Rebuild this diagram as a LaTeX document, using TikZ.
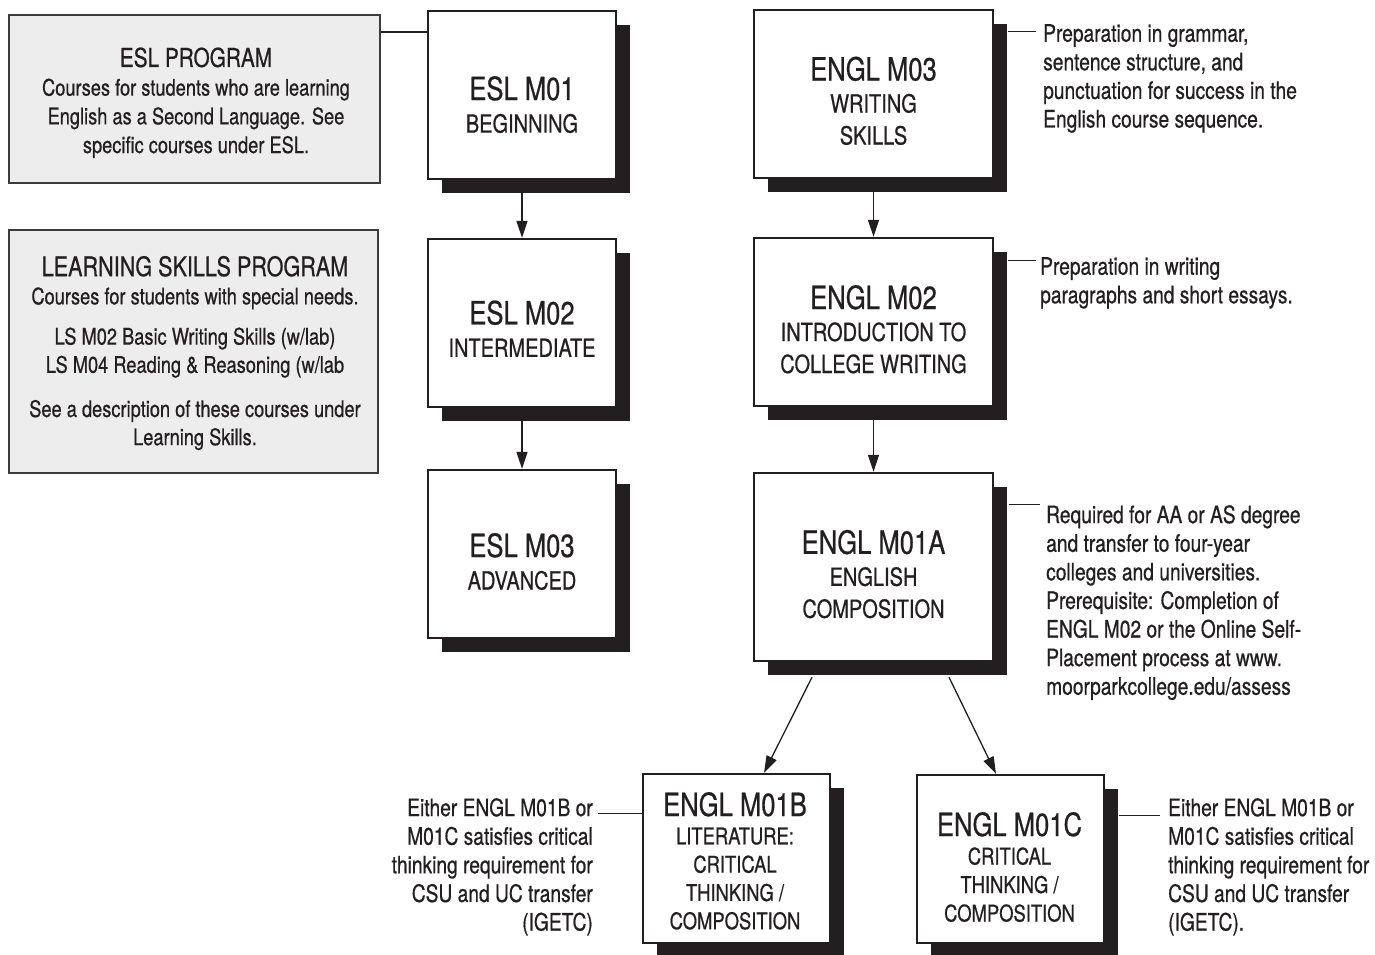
\documentclass[tikz,border=0pt]{standalone}
\usepackage{fontspec}
\setmainfont{TeX Gyre Heros}[FakeStretch=0.8,FakeBold=0.6]
\usetikzlibrary{arrows.meta,shadows,calc}
\definecolor{ink}{HTML}{231F20}
\definecolor{panel}{HTML}{EDEDED}
\definecolor{panelline}{HTML}{3C3C3C}
\newcommand\fsz[2]{\fontsize{#1}{#2}\selectfont}
\begin{document}
\begin{tikzpicture}[x=1pt,y=-1pt,
  cbox/.style={draw=ink, line width=2.4pt, fill=white, inner sep=0pt,
    minimum width=188pt, minimum height=168pt,
    drop shadow={shadow xshift=14pt,shadow yshift=-14pt,opacity=1,fill=ink}},
  gbox/.style={draw=panelline, line width=1.8pt, fill=panel, inner sep=0pt},
  ctext/.style={anchor=north, align=center, inner sep=0pt, text=ink},
  note/.style={inner sep=0pt, text=ink, font=\fsz{24}{28.6}},
  arr/.style={draw=ink, line width=1.3pt, -{Triangle[width=11pt,length=17pt]}},
  ann/.style={draw=ink, line width=1.2pt}]
\fill[white] (0,0) rectangle (1375,955);
\useasboundingbox (0,0) rectangle (1375,955);

% grey program boxes
\node[gbox, minimum width=371pt, minimum height=168pt] (esl) at (194.5,99) {};
\node[gbox, minimum width=369pt, minimum height=243pt] (ls) at (193.5,351.5) {};

% course boxes
\node[cbox] (m1) at (522,95) {};
\node[cbox] (m2) at (522,323) {};
\node[cbox] (m3) at (522,554) {};
\node[cbox, minimum width=239pt] (e3) at (873.5,94) {};
\node[cbox, minimum width=239pt] (e2) at (873.5,322) {};
\node[cbox, minimum width=239pt, minimum height=188pt] (a1) at (873.5,567) {};
\node[cbox, minimum width=187pt, minimum height=169pt] (b1) at (736.5,858.5) {};
\node[cbox, minimum width=187pt] (c1) at (1010.5,859) {};

% texts of the grey boxes
\node[ctext, font=\fsz{22.8}{28.7}] (eslt) at (196,47.3)
  {{\fsz{26}{28.7}ESL PROGRAM}\\Courses for students who are learning\\English as a Second Language. See\\specific courses under ESL.};
\node[ctext, font=\fsz{22.8}{28.2}] (lst) at (195,255.8)
  {{\fsz{27}{28.2}LEARNING SKILLS PROGRAM}\\Courses for students with special needs.\\[12pt]LS M02 Basic Writing Skills (w/lab)\\LS M04 Reading \& Reasoning (w/lab\\[16pt]See a description of these courses under\\Learning Skills.};

% texts of the course boxes
\node[ctext, font=\fsz{25}{32.5}] (m1t) at (522,76) {{\fsz{32}{32.5}ESL M01}\\BEGINNING};
\node[ctext, font=\fsz{25}{32.5}] (m2t) at (522,300.3) {{\fsz{32}{32.5}ESL M02}\\INTERMEDIATE};
\node[ctext, font=\fsz{25}{32.5}] (m3t) at (522,532.9) {{\fsz{32}{32.5}ESL M03}\\ADVANCED};
\node[ctext, font=\fsz{25}{32}] (e3t) at (873.5,56.4) {{\fsz{32}{31.5}ENGL M03}\\WRITING\\SKILLS};
\node[ctext, font=\fsz{25}{32}] (e2t) at (873.5,284.9) {{\fsz{32}{32}ENGL M02}\\INTRODUCTION TO\\COLLEGE WRITING};
\node[ctext, font=\fsz{25}{32}] (a1t) at (873.5,529.7) {{\fsz{32}{32}ENGL M01A}\\ENGLISH\\COMPOSITION};
\node[ctext, font=\fsz{23}{28.3}] (b1t) at (735,791.9) {{\fsz{32}{28.3}ENGL M01B}\\LITERATURE:\\CRITICAL\\THINKING /\\COMPOSITION};
\node[ctext, font=\fsz{23}{28.5}] (c1t) at (1009.5,811.9) {{\fsz{32}{28.5}ENGL M01C}\\CRITICAL\\THINKING /\\COMPOSITION};

% annotations
\node[note, anchor=north west, align=left] (n3) at (1043,24)
  {Preparation in grammar,\\sentence structure, and\\punctuation for success in the\\English course sequence.};
\node[note, anchor=north west, align=left] (n2) at (1040,257)
  {Preparation in writing\\paragraphs and short essays.};
\node[note, anchor=north west, align=left] (n1a) at (1046,505)
  {Required for AA or AS degree\\and transfer to four-year\\colleges and universities.\\Prerequisite: Completion of\\ENGL M02 or the Online Self-\\Placement process at www.\\moorparkcollege.edu/assess};
\node[note, anchor=north east, align=right] (nb) at (593,798)
  {Either ENGL M01B or\\M01C satisfies critical\\thinking requirement for\\CSU and UC transfer\\(IGETC)};
\node[note, anchor=north west, align=left] (nc) at (1168,798)
  {Either ENGL M01B or\\M01C satisfies critical\\thinking requirement for\\CSU and UC transfer\\(IGETC).};

% annotation lines
\draw[ann] ($(esl.north east)+(0,18)$) -- ($(esl.north east -| m1.west)+(0,18)$);
\draw[ann] ($(e3.north east)+(14,23)$) -- ($(e3.north east -| n3.west)+(-7,23)$);
\draw[ann] ($(e2.north east)+(14,24)$) -- ($(e2.north east -| n2.west)+(-4,24)$);
\draw[ann] ($(a1.north east)+(15,33)$) -- ($(a1.north east -| n1a.west)+(-6,33)$);
\draw[ann] ($(b1.north west -| nb.east)+(5,41)$) -- ($(b1.north west)+(0,41)$);
\draw[ann] ($(c1.north east)+(14,42)$) -- ($(c1.north east -| nc.west)+(-8,42)$);

% arrows
\draw[arr] (m1) -- (m2);
\draw[arr] (m2) -- (m3);
\draw[arr] (e3) -- (e2);
\draw[arr] (e2) -- (a1);
\draw[arr] ($(a1.south)+(-61.5,15)$) -- ($(b1.north)+(27.5,0)$);
\draw[arr] ($(a1.south)+(75.5,15)$) -- ($(c1.north)+(-14.5,0)$);
\end{tikzpicture}
\end{document}
